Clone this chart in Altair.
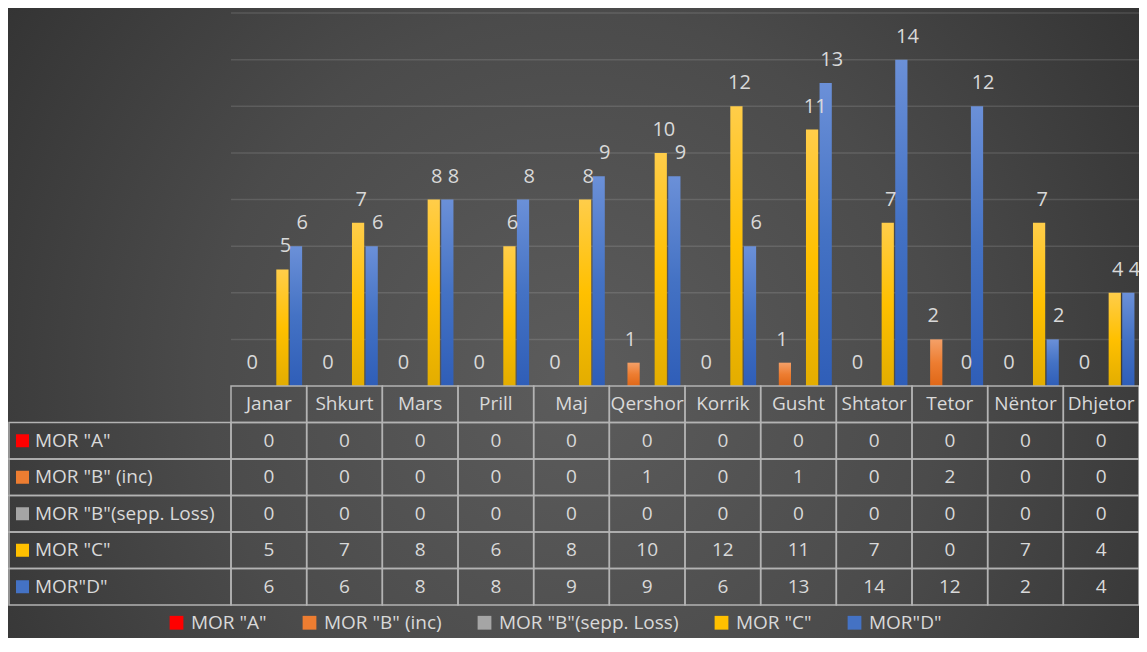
import altair as alt
import pandas as pd

W, H = 1131, 630
FONT = "Open Sans"
TXT = "#d9d9d9"
LINE = "#b3b3b3"

months = ["Janar", "Shkurt", "Mars", "Prill", "Maj", "Qershor", "Korrik",
          "Gusht", "Shtator", "Tetor", "Nëntor", "Dhjetor"]
series = ['MOR "A"', 'MOR "B" (inc)', 'MOR "B"(sepp. Loss)', 'MOR "C"', 'MOR"D"']
mor_a = [0, 0, 0, 0, 0, 0, 0, 0, 0, 0, 0, 0]
mor_b_inc = [0, 0, 0, 0, 0, 1, 0, 1, 0, 2, 0, 0]
mor_b_sepp = [0, 0, 0, 0, 0, 0, 0, 0, 0, 0, 0, 0]
mor_c = [5, 7, 8, 6, 8, 10, 12, 11, 7, 0, 7, 4]
mor_d = [6, 6, 8, 8, 9, 9, 6, 13, 14, 12, 2, 4]
grid_vals = [2, 4, 6, 8, 10, 12, 14, 16]
labelled = ['MOR "B" (inc)', 'MOR "C"', 'MOR"D"']

colors = ["#ff0000", "#ed7d31", "#a5a5a5", "#ffc000", "#4472c4"]
tops = ["#ff4040", "#f4a068", "#c4c4c4", "#ffcd4a", "#6b90d8"]
mids = ["#ff0000", "#ed7d31", "#a5a5a5", "#ffc000", "#4472c4"]
bottoms = ["#d00000", "#df6717", "#8c8c8c", "#e3ad00", "#2f5eb8"]

values = [mor_a, mor_b_inc, mor_b_sepp, mor_c, mor_d]
rows = []
for s, vals in zip(series, values):
    for m, v in zip(months, vals):
        rows.append({"series": s, "month": m, "value": v})
long = pd.DataFrame(rows)

row_keys = ["Muaji"] + series

x_tab = alt.Scale(domain=months, range=[223, 1131], paddingInner=0, paddingOuter=0)
x_bar = alt.Scale(domain=months, range=[223, 1131], paddingInner=0.12, paddingOuter=0.06)
x_off = alt.Scale(domain=series, paddingInner=0.1, paddingOuter=0)
y_val = alt.Scale(domain=[0, 16], range=[378, 5], nice=False)
y_tab = alt.Scale(domain=row_keys, range=[378, 597], paddingInner=0, paddingOuter=0)
x_lab = alt.Scale(domain=["lbl"], range=[1, 223], paddingInner=0, paddingOuter=0)

radial = {
    "gradient": "radial",
    "x1": 0.5, "y1": 0.55, "r1": 0,
    "x2": 0.5, "y2": 0.55, "r2": 0.72,
    "stops": [
        {"offset": 0, "color": "#5c5c5c"},
        {"offset": 0.45, "color": "#4b4b4b"},
        {"offset": 1, "color": "#2a2a2a"},
    ],
}

bg = alt.Chart(pd.DataFrame({"k": [0]})).mark_rect(fill=radial).encode(
    x=alt.value(0), x2=alt.value(W), y=alt.value(0), y2=alt.value(H)
)

grid_df = pd.DataFrame({"v": grid_vals, "start": months[0], "end": months[-1]})
grid = alt.Chart(grid_df).mark_rule(color="white", opacity=0.12, strokeWidth=1.5).encode(
    y=alt.Y("v:Q", scale=y_val, axis=None),
    x=alt.X("start:N", scale=x_tab, axis=None, bandPosition=0),
    x2=alt.X2("end:N", bandPosition=1),
)

bar_layers = []
for i, s in enumerate(series):
    grad = {
        "gradient": "linear", "x1": 0, "y1": 0, "x2": 0, "y2": 1,
        "stops": [
            {"offset": 0, "color": tops[i]},
            {"offset": 0.5, "color": mids[i]},
            {"offset": 1, "color": bottoms[i]},
        ],
    }
    bar_layers.append(
        alt.Chart(long[long["series"] == s]).mark_bar(fill=grad).encode(
            x=alt.X("month:N", scale=x_bar, axis=None),
            xOffset=alt.XOffset("series:N", scale=x_off),
            y=alt.Y("value:Q", scale=y_val, axis=None),
        )
    )

bar_text = alt.Chart(long[long["series"].isin(labelled)]).mark_text(
    font=FONT, fontSize=20, color=TXT, baseline="alphabetic", dy=-17
).encode(
    x=alt.X("month:N", scale=x_bar, axis=None),
    xOffset=alt.XOffset("series:N", scale=x_off),
    y=alt.Y("value:Q", scale=y_val, axis=None),
    text=alt.Text("value:Q"),
)

cell_rows = []
for m in months:
    cell_rows.append({"row": "Muaji", "month": m, "label": m})
for s, vals in zip(series, values):
    for m, v in zip(months, vals):
        cell_rows.append({"row": s, "month": m, "label": str(v)})
cells = pd.DataFrame(cell_rows)

cell_rect = alt.Chart(cells).mark_rect(fillOpacity=0, stroke=LINE, strokeWidth=1.5).encode(
    x=alt.X("month:N", scale=x_tab, axis=None),
    y=alt.Y("row:N", scale=y_tab, axis=None),
)
cell_text = alt.Chart(cells).mark_text(font=FONT, fontSize=19, color=TXT, baseline="middle").encode(
    x=alt.X("month:N", scale=x_tab, axis=None),
    y=alt.Y("row:N", scale=y_tab, axis=None),
    text="label:N",
)

lab_df = pd.DataFrame({"row": series, "col": "lbl"})
lab_rect = alt.Chart(lab_df).mark_rect(fillOpacity=0, stroke=LINE, strokeWidth=1.5).encode(
    x=alt.X("col:N", scale=x_lab, axis=None),
    y=alt.Y("row:N", scale=y_tab, axis=None),
)
lab_sq = alt.Chart(lab_df).mark_point(
    shape="square", filled=True, size=169, opacity=1, xOffset=-97.5
).encode(
    x=alt.X("col:N", scale=x_lab, axis=None),
    y=alt.Y("row:N", scale=y_tab, axis=None),
    color=alt.Color(
        "row:N",
        scale=alt.Scale(domain=series, range=colors),
        legend=alt.Legend(
            orient="none", legendX=159, legendY=605, direction="horizontal",
            title=None, symbolType="square", symbolSize=190, symbolStrokeWidth=0,
            labelFontSize=19, labelFont=FONT, labelColor=TXT, labelOffset=5,
            labelLimit=400, columnPadding=33, padding=0,
        ),
    ),
)
lab_text = alt.Chart(lab_df).mark_text(
    font=FONT, fontSize=19, color=TXT, align="left", baseline="middle", dx=-85
).encode(
    x=alt.X("col:N", scale=x_lab, axis=None),
    y=alt.Y("row:N", scale=y_tab, axis=None),
    text="row:N",
)

chart = alt.layer(
    bg, grid, *bar_layers, bar_text, cell_rect, cell_text, lab_rect, lab_sq, lab_text
).resolve_scale(
    x="independent", y="independent", xOffset="independent", color="independent"
).properties(
    width=W, height=H, padding=0,
    autosize=alt.AutoSizeParams(type="none"),
    background="#2a2a2a",
).configure_view(stroke=None)

chart.save("out.html", embed_options={"renderer": "svg", "actions": False})
